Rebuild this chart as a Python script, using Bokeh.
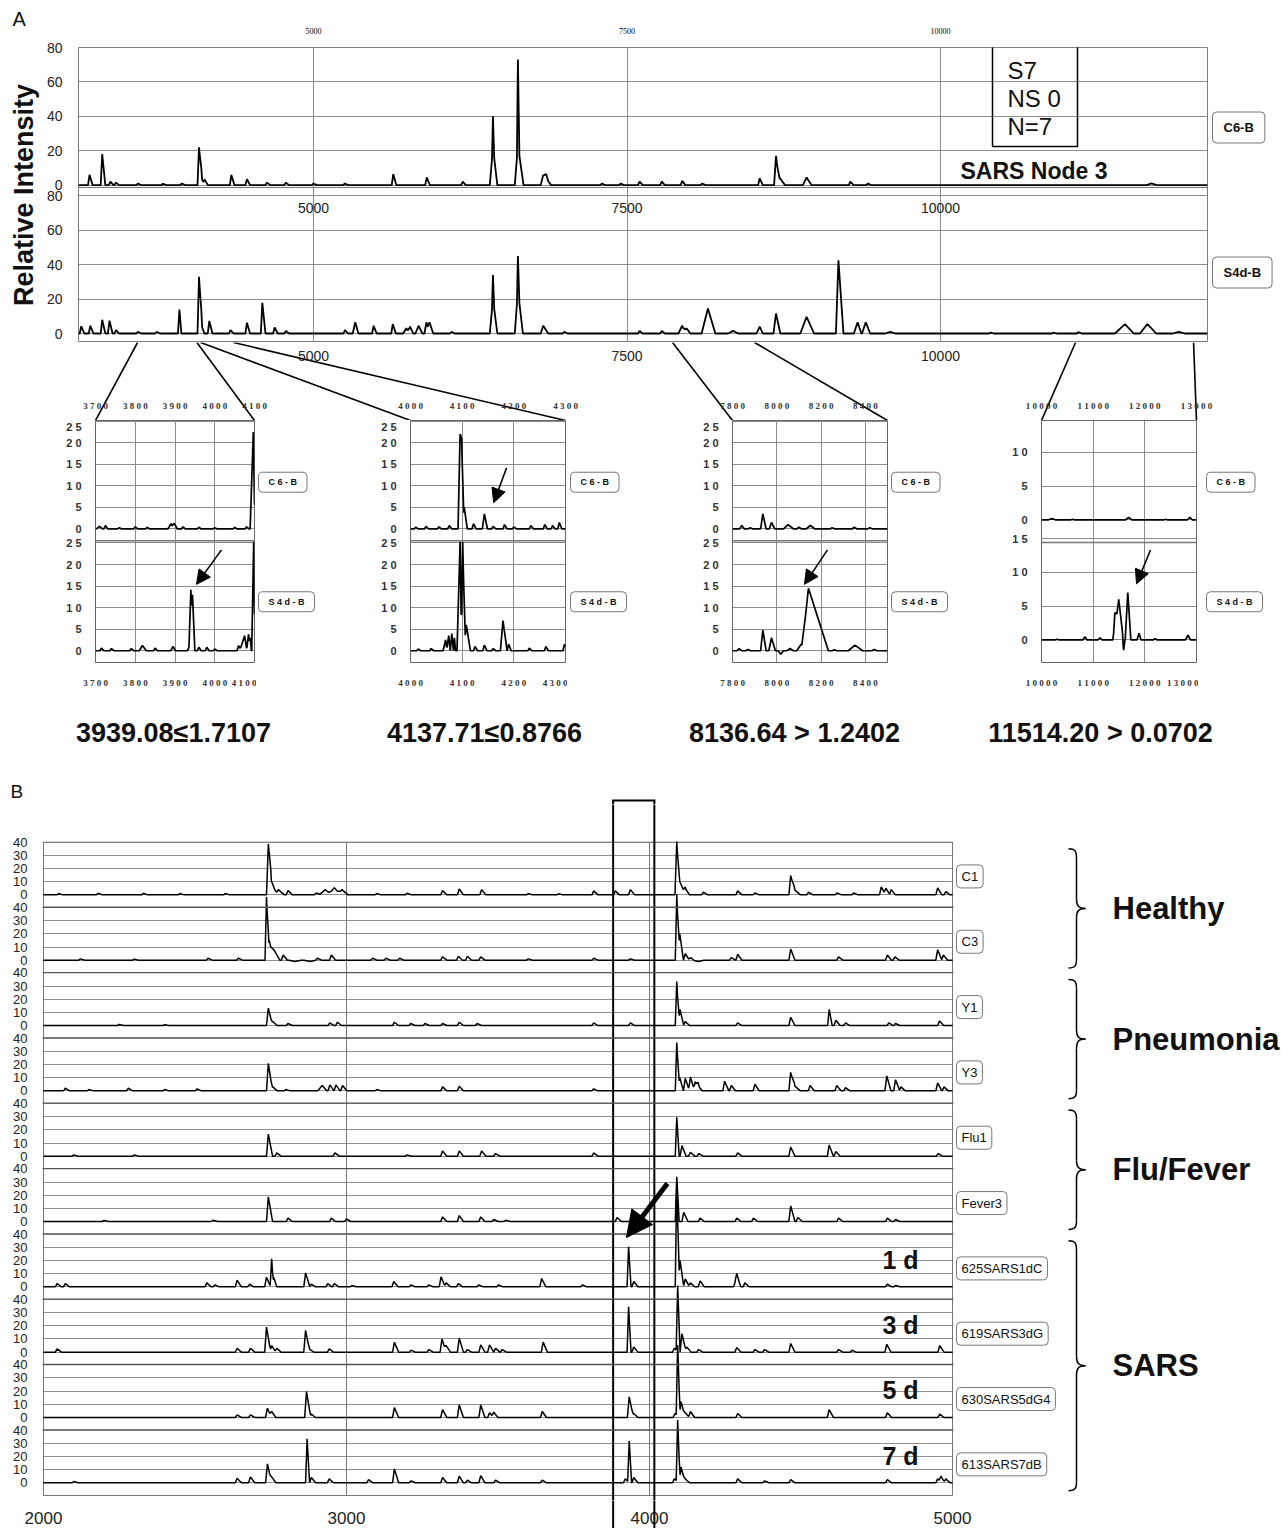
import numpy as np
from bokeh.plotting import figure
from bokeh.models import Range1d, FixedTicker, Arrow, NormalHead, Span
from bokeh.layouts import column, row
from bokeh.core.properties import value
from bokeh.embed import file_html
from bokeh.resources import INLINE

SANS = "Liberation Sans"
SERIF = "Liberation Serif"
INK = "#111111"
GRID = "#8c8c8c"

# ======================= DATA =======================
# ---- Panel A, full spectra (mass, height[, left width, right width]) ----
A_XTICKS = [5000, 7500, 10000]
A_YTICKS = [0, 20, 40, 60, 80]
A_NAMES = ["C6-B", "S4d-B"]
A_C6B = [(3214, 6), (3315, 18), (3380, 2), (3425, 1.5), (3600, 1), (3800, 0.8), (3950, 1),
         (4087, 22), (4105, 4, 15, 30), (4133, 3), (4345, 5.9), (4469, 3.5), (4630, 1.5),
         (4780, 1.5), (5000, 1), (5250, 1), (5636, 6.4), (5903, 4.5), (6190, 2),
         (6431, 22, 25, 35), (6431, 18, 8, 10), (6630, 23, 25, 45), (6630, 50, 8, 12),
         (6832, 6, 20, 40), (6855, 4, 20, 40), (7300, 1), (7450, 1), (7600, 2), (7777, 2),
         (7940, 2.5), (8100, 1), (8558, 4), (8688, 17, 15, 30), (8720, 4, 20, 40),
         (8932, 4.5, 30, 40), (9281, 2), (9421, 1), (11683, 1, 40, 40)]
A_S4DB = [(3148, 4.2), (3220, 4.5), (3315, 8), (3373, 7.5), (3425, 2), (3600, 1), (3750, 1),
          (3931, 13.9, 12, 15), (4087, 33), (4105, 5, 15, 25), (4169, 7.3), (4338, 2),
          (4469, 6.3), (4592, 17.8), (4690, 3.5), (4780, 1.5), (5251, 2), (5333, 6.5, 20, 25),
          (5479, 4.5), (5632, 5.5), (5740, 3, 25, 25), (5770, 4, 20, 25), (5838, 4.5, 25, 30),
          (5900, 6.5, 15, 25), (5925, 6.5, 15, 30), (6100, 1), (6431, 20, 25, 35),
          (6431, 14, 8, 10), (6630, 25, 25, 40), (6630, 20, 8, 12), (6832, 4.5, 20, 40),
          (7000, 1), (7600, 1.5), (7777, 1.5), (7940, 4.5, 30, 30), (7975, 3, 25, 30),
          (8145, 14.5, 50, 60), (8346, 1.5, 40, 40), (8558, 4, 25, 25), (8688, 11.6, 20, 35),
          (8932, 9.7, 50, 60), (9186, 42.5, 20, 40), (9339, 6.5, 30, 30), (9404, 6.5, 30, 35),
          (9600, 1, 40, 40), (10400, 0.5), (10900, 0.5), (11100, 0.8),
          (11471, 5.5, 80, 70), (11650, 5.5, 60, 70), (11900, 1, 50, 50)]
BOX_LINES = ["S7", "NS 0", "N=7"]
NODE_TITLE = "SARS Node 3"
CONN_TOP_MASS = [3597, 4070, 4100, 4362, 7863, 8517, 11077, 12018]

# ---- Panel A, zoomed insets ----
INSET_RANGES = [(3700, 4100), (4000, 4300), (7800, 8500), (10000, 13000)]
INSET_XTICKS = [[3700, 3800, 3900, 4000, 4100], [4000, 4100, 4200, 4300],
                [7800, 8000, 8200, 8400], [10000, 11000, 12000, 13000]]
INSET_YTICKS = [[0, 5, 10, 15, 20, 25]] * 3 + [[0, 5, 10, 15]]
INSET_C6B = [
    [(3710, 0.6, 8, 8), (3725, 0.8), (3760, 0.3), (3800, 0.5), (3830, 0.4), (3890, 1.2, 8, 8),
     (3898, 1.3, 5, 8), (3920, 0.5), (3960, 0.4), (4000, 0.3), (4050, 0.4), (4080, 0.5),
     (4097, 22.5, 8, 4)],
    [(4010, 0.4), (4030, 0.6), (4055, 0.5), (4075, 0.8), (4096, 22, 4, 3), (4099, 21, 3, 4),
     (4104, 5, 4, 6), (4122, 1.2), (4143, 3.5, 4, 6), (4160, 0.6), (4182, 1), (4200, 0.5),
     (4233, 0.8), (4260, 1), (4275, 0.8), (4288, 1.5)],
    [(7842, 0.8), (7880, 0.3), (7937, 3.5, 10, 15), (7976, 1.5, 10, 15), (8051, 1, 20, 25),
     (8100, 0.4), (8152, 0.8, 20, 20), (8250, 0.3), (8350, 0.4), (8420, 0.3)],
    [(10200, 0.2, 80, 80), (10600, 0.1), (11687, 0.4, 60, 60), (12400, 0.1), (12871, 0.4, 50, 50)],
]
INSET_S4DB = [
    [(3715, 0.6), (3740, 0.5), (3790, 0.5), (3818, 1.2, 8, 10), (3850, 0.6), (3895, 1, 6, 6),
     (3935, 0.7), (3940, 14, 5, 4), (3944, 13, 3, 6), (3960, 0.8), (3980, 0.8), (4000, 0.4),
     (4060, 1.2), (4075, 3.5, 12, 6), (4085, 3.8, 5, 5), (4090, 3, 3, 2), (4098, 25.3, 5, 3)],
    [(4015, 0.4), (4040, 0.5), (4068, 2.5, 5, 3), (4074, 3.5, 4, 3), (4080, 4, 3, 3),
     (4085, 3, 2, 2), (4096, 25.3, 6, 3), (4101, 25.3, 3, 5), (4108, 6, 5, 8), (4125, 1),
     (4143, 1.3), (4160, 0.5), (4179, 7, 5, 8), (4190, 1.5), (4230, 0.6), (4262, 1), (4298, 1.5)],
    [(7830, 0.5), (7870, 0.3), (7937, 4.8, 10, 15), (7976, 3, 12, 18), (8018, -0.8, 12, 12),
     (8060, 0.5, 15, 15), (8110, 1.5, 20, 20), (8143, 14.5, 30, 90), (8260, 0.2),
     (8353, 1.3, 30, 35), (8440, 0.3)],
    [(10300, 0.1), (10840, 0.5), (11134, 0.3), (11420, 2.5), (11495, 6, 100, 90),
     (11590, -1.5, 25, 25), (11670, 7, 50, 60), (11888, 1), (12200, 0.2), (12835, 0.7, 50, 50)],
]
INSET_ARROWS = [("lower", 4017, 23.4, 3954, 15.4), ("upper", 4186, 14.2, 4161, 6.1),
                ("lower", 8229, 23.4, 8125, 15.4), ("lower", 12110, 13.3, 11839, 8.3)]
THRESH_TEXT = ["3939.08≤1.7107", "4137.71≤0.8766", "8136.64 > 1.2402", "11514.20 > 0.0702"]

# ---- Panel B ----
B_XTICKS = [2000, 3000, 4000, 5000]
B_YTICKS = [0, 10, 20, 30, 40]
B_NAMES = ["C1", "C3", "Y1", "Y3", "Flu1", "Fever3",
           "625SARS1dC", "619SARS3dG", "630SARS5dG4", "613SARS7dB"]
B_C1 = [(2050, 1), (2180, 1.2), (2330, 1.2), (2450, 1), (2600, 1), (2742, 38.7, 6, 10),
        (2750, 12, 8, 20), (2775, 4, 10, 20), (2807, 3.3), (2900, 1.5), (2930, 4, 20, 20),
        (2960, 5.5, 20, 20), (2985, 4, 15, 20), (3100, 1), (3200, 1.2), (3317, 3.3), (3372, 4.5),
        (3446, 4), (3600, 1), (3700, 0.8), (3816, 3), (3887, 3), (3937, 4), (4090, 40.5, 6, 10),
        (4100, 10, 8, 20), (4118, 5), (4178, 2), (4291, 3), (4348, 1.5), (4466, 14.7),
        (4478, 4, 10, 20), (4525, 2), (4619, 1.5), (4674, 1.5), (4765, 6), (4780, 5), (4798, 4),
        (4951, 5.3), (4978, 2.5)]
B_C3 = [(2122, 1), (2300, 0.8), (2543, 1.5), (2643, 1.5), (2736, 48, 5, 8), (2745, 15, 8, 15),
        (2760, 8, 10, 20), (2791, 4), (2830, -1, 20, 20), (2880, -1, 20, 20), (2904, 1.5),
        (2950, 4), (3086, 1.5), (3130, 1.5), (3175, 1.5), (3317, 2.5), (3369, 3), (3399, 3),
        (3443, 2.5), (3600, 1), (3816, 1.5), (3937, 1), (4090, 50, 5, 8), (4100, 20, 8, 12),
        (4118, 5), (4135, 2), (4160, -1, 20, 20), (4270, 2), (4291, 4.5), (4466, 8.5),
        (4624, 2.5), (4785, 4), (4810, 2.5), (4951, 8), (4970, 4)]
B_Y1 = [(2250, 0.8), (2400, 0.6), (2742, 13.2), (2757, 3), (2807, 1.5), (2945, 2), (2970, 2.5),
        (3158, 2.5), (3212, 1.5), (3259, 1.5), (3317, 1.5), (3372, 2.5), (3431, 1.5), (3816, 2),
        (3937, 2), (4090, 33.4, 5, 8), (4101, 12, 8, 12), (4118, 3), (4291, 2), (4466, 6.3),
        (4593, 12.2, 5, 10), (4615, 4), (4647, 2), (4790, 2), (4812, 1.5), (4957, 3.5)]
B_Y3 = [(2072, 2), (2150, 1), (2280, 2), (2400, 1), (2507, 1.5), (2742, 20.8), (2757, 3),
        (2800, 1), (2920, 4, 15, 15), (2945, 4.5), (2965, 4.5), (2987, 4), (3100, 1), (3317, 3),
        (3372, 3.5), (3816, 1.5), (4090, 36.7, 5, 8), (4100, 10, 8, 12), (4118, 9.5),
        (4135, 10.5), (4151, 7), (4160, 4), (4248, 7.3), (4270, 4), (4348, 5), (4466, 14),
        (4478, 4, 10, 20), (4530, 4), (4618, 4), (4647, 2.5), (4783, 11.4), (4812, 8.5),
        (4830, 3), (4951, 6), (4972, 3)]
B_FLU1 = [(2100, 1), (2300, 1), (2742, 16.7), (2770, 2.5), (2962, 2.5), (3200, 1), (3317, 4),
          (3372, 4), (3446, 4), (3492, 2), (3816, 2.5), (4090, 29.6, 5, 8), (4107, 8),
          (4135, 3), (4163, 2), (4291, 2.5), (4466, 7), (4593, 8.5), (4615, 3.5), (4953, 2)]
B_FEVER3 = [(2200, 0.8), (2560, 1), (2742, 18.7), (2807, 2.5), (2950, 2.5), (3000, 2),
            (3317, 3.5), (3372, 4.5), (3443, 3.5), (3486, 1.5), (3526, 1), (3893, 3),
            (4090, 34, 5, 8), (4113, 7), (4167, 2.5), (4288, 2.5), (4343, 2.5), (4466, 11.9),
            (4490, 3), (4624, 2.5), (4785, 2.5), (4812, 1.5)]
B_S1D = [(2045, 2.5), (2072, 2.5), (2539, 3), (2566, 1.5), (2639, 5), (2680, 2), (2736, 7.3),
         (2753, 21.3, 5, 6), (2760, 7, 4, 10), (2865, 10.6), (2884, 2), (2938, 2.5), (2960, 2.5),
         (3018, 1), (3156, 4), (3213, 1.5), (3272, 1.5), (3312, 7.6), (3329, 3), (3369, 2.5),
         (3437, 1.5), (3502, 1.5), (3644, 6.3), (3779, 1.5), (3931, 30.4, 5, 8), (3948, 4),
         (4090, 80, 5, 8), (4101, 20, 8, 12), (4118, 6), (4135, 3), (4167, 4.5), (4283, 3.5),
         (4288, 8), (4315, 3), (4785, 2), (4812, 1)]
B_S3D = [(2045, 2.5), (2639, 3), (2683, 3), (2736, 19), (2753, 5), (2770, 3), (2865, 16.5),
         (2879, 2), (2943, 2.5), (3158, 7.5), (3213, 1.5), (3272, 2), (3315, 10), (3329, 5),
         (3372, 10.5), (3399, 2), (3443, 5.5), (3472, 5.5), (3492, 3), (3514, 2), (3649, 7.6),
         (3931, 34.4, 5, 8), (3948, 4), (4082, 3), (4093, 50, 5, 8), (4107, 14), (4123, 4),
         (4162, 2), (4288, 3.5), (4348, 2), (4380, 2), (4466, 6.6), (4624, 2), (4668, 1.5),
         (4783, 6), (4958, 5)]
B_S5D = [(2639, 2), (2683, 2), (2739, 7), (2753, 4.5), (2868, 19.7), (2884, 2.5), (3158, 7.5),
         (3317, 6), (3372, 9.5), (3443, 9.5), (3472, 3.5), (3486, 4), (3646, 4.5), (3933, 15.7),
         (3948, 3), (4084, 3), (4093, 54, 5, 8), (4104, 12), (4118, 3.5), (4135, 4.5),
         (4291, 3), (4593, 6), (4785, 3.5), (4958, 2.5)]
B_S7D = [(2100, 1), (2639, 3.5), (2683, 4.5), (2739, 14.4), (2753, 4.5), (2870, 33.4, 5, 8),
         (2884, 4), (2943, 3), (3073, 2.5), (3158, 10.6), (3213, 1.5), (3317, 4), (3372, 5),
         (3399, 2), (3443, 5.5), (3492, 2), (3646, 2), (3920, 3), (3933, 31.6, 5, 8), (3948, 4),
         (4082, 3), (4093, 47, 5, 8), (4104, 12), (4118, 3), (4291, 3), (4380, 1.5), (4466, 2.5),
         (4785, 2.5), (4951, 3), (4962, 4.5), (4978, 3)]
B_TRACES = [B_C1, B_C3, B_Y1, B_Y3, B_FLU1, B_FEVER3, B_S1D, B_S3D, B_S5D, B_S7D]
B_GROUPS = [("Healthy", 0, 1), ("Pneumonia", 2, 3), ("Flu/Fever", 4, 5), ("SARS", 6, 9)]
B_DAYS = {6: "1 d", 7: "3 d", 8: "5 d", 9: "7 d"}
B_HILITE = (3880, 4016)
B_ARROW = (4059, 3924)


# ======================= HELPERS =======================
def profile(peaks, x0, x1, wl0, wr0):
    pk = []
    for p in peaks:
        wl = p[2] if len(p) > 2 else wl0
        wr = p[3] if len(p) > 3 else wr0
        pk.append((p[0], p[1], wl, wr))
    xs = {x0, x1}
    for m, h, wl, wr in pk:
        xs.update((m - wl, m, m + wr))
    xs = sorted(x for x in xs if x0 <= x <= x1)
    ys = []
    for x in xs:
        s = 0.0
        for m, h, wl, wr in pk:
            if m - wl < x <= m:
                s += h * (x - (m - wl)) / wl
            elif m < x < m + wr:
                s += h * (m + wr - x) / wr
        ys.append(s)
    return np.array(xs, float), np.array(ys, float)


def txt(p, x, y, text, size, bold=False, align="left", font=SANS, color=INK, **kw):
    return p.text(x=x, y=y, text=text, text_font=value(font), text_font_size=size,
                  text_font_style="bold" if bold else "normal", text_align=align,
                  text_baseline="middle", text_color=color, **kw)


def blank(width, height, xr, yr, top=0, bottom=0):
    f = figure(width=width, height=height, x_range=xr, y_range=yr, x_axis_location=None,
               y_axis_location=None, output_backend="svg", toolbar_location=None,
               outline_line_color=None, min_border_left=0, min_border_right=0,
               min_border_top=top, min_border_bottom=bottom)
    f.grid.visible = False
    return f


def spaced(s):
    return " ".join(str(s))


BOXKW = dict(border_line_color="#777777", border_line_width=1, background_fill_color="white",
             border_radius=4)
W = 1283

# ======================= PANEL A: full spectra =======================
XA0, XA1 = 3126, 12129
AF_L, AF_R, AF_T, AF_B = 78, 1207, 47, 342
A_ZERO_PX, A_SCALE = 333.0, 1.72
OFF_A = 86.25
TOP_H = 39


def pxa(m):
    return AF_L + (m - XA0) / (XA1 - XA0) * (AF_R - AF_L)


def ax(px):
    return XA0 + (px - AF_L) / (AF_R - AF_L) * (XA1 - XA0)


def ay(py):
    return (A_ZERO_PX - py) / A_SCALE


figTop = blank(W, TOP_H, Range1d(0, W), Range1d(TOP_H, 0))
txt(figTop, [12], [18], ["A"], "20px")
txt(figTop, [pxa(t) for t in A_XTICKS], [30] * 3, [str(t) for t in A_XTICKS], "8px",
    align="center", font=SERIF, color="#000000")

figA = figure(width=AF_R + 2, height=AF_B - TOP_H, x_range=Range1d(XA0, XA1),
              y_range=Range1d(ay(AF_B), ay(AF_T)), x_axis_location=None,
              min_border_left=AF_L, min_border_right=2, min_border_top=AF_T - TOP_H,
              min_border_bottom=0, output_backend="svg", toolbar_location=None,
              outline_line_color="#7a7a7a")
ticksA = [float(t) for t in A_YTICKS] + [OFF_A + t for t in A_YTICKS]
figA.yaxis.ticker = FixedTicker(ticks=ticksA)
figA.yaxis.major_label_overrides = {t: str(int(round(t - (OFF_A if t > 85 else 0)))) for t in ticksA}
figA.yaxis.major_label_text_font = SANS
figA.yaxis.major_label_text_font_size = "14px"
figA.yaxis.major_label_text_color = "#222222"
figA.yaxis.major_label_standoff = 10
figA.yaxis.axis_line_color = None
figA.yaxis.major_tick_line_color = None
figA.yaxis.minor_tick_line_color = None
figA.yaxis.axis_label = "Relative Intensity"
figA.yaxis.axis_label_text_font = SANS
figA.yaxis.axis_label_text_font_size = "27px"
figA.yaxis.axis_label_text_font_style = "bold"
figA.yaxis.axis_label_text_color = INK
figA.yaxis.axis_label_standoff = 5
figA.ygrid.ticker = FixedTicker(ticks=ticksA)
figA.xgrid.ticker = FixedTicker(ticks=A_XTICKS)
figA.grid.grid_line_color = GRID
figA.add_layout(Span(location=ay(187), dimension="width", line_color="#777777", line_width=1))

xs, ys = profile(A_C6B, XA0, XA1, 12, 25)
figA.line(xs, ys + OFF_A, line_color="black", line_width=1.8)
xs, ys = profile(A_S4DB, XA0, XA1, 12, 25)
figA.line(xs, ys, line_color="black", line_width=1.8)

txt(figA, A_XTICKS, [ay(207)] * 3, [str(t) for t in A_XTICKS], "14px", align="center", color="#222222")
figA.quad(left=[ax(992)], right=[ax(1077)], bottom=[ay(146)], top=[ay(40)], fill_color=None,
          line_color="black", line_width=1.5)
txt(figA, [ax(1007)] * 3, [ay(70), ay(98), ay(126)], BOX_LINES, "24px")
txt(figA, [ax(960)], [ay(170)], [NODE_TITLE], "23px", bold=True)

figA_r = blank(W - (AF_R + 2), AF_B - TOP_H, Range1d(0, W - (AF_R + 2)), figA.y_range,
               top=AF_T - TOP_H)
txt(figA_r, [3, 3], [ay(127), ay(272)], A_NAMES, "13px", bold=True, padding=(11, 8), **BOXKW)

# ======================= connectors =======================
INSET_FRAMES = [(95, 254), (410, 565), (732, 887), (1041, 1196)]
IN_TOP, IN_BOT, IN_END = 420, 667, 690
figC = blank(W, IN_TOP - AF_B, Range1d(0, W), Range1d(IN_TOP, AF_B))
bot_px = [v for fr in INSET_FRAMES for v in fr]
figC.segment(x0=[pxa(m) for m in CONN_TOP_MASS], y0=[AF_B] * 8, x1=bot_px, y1=[IN_TOP] * 8,
             line_color="black", line_width=1.6)
txt(figC, [pxa(t) for t in A_XTICKS], [355] * 3, [str(t) for t in A_XTICKS], "14px",
    align="center", color="#222222")


def inset_px(i, t):
    (L, R), (x0, x1) = INSET_FRAMES[i], INSET_RANGES[i]
    return L + (t - x0) / (x1 - x0) * (R - L)


for i in range(4):
    tk = INSET_XTICKS[i]
    txt(figC, [inset_px(i, t) for t in tk], [405] * len(tk), [spaced(t) for t in tk], "9px",
        bold=True, align="center", font=SERIF, color="#333333")

# ======================= insets =======================
INSET_ZERO_PX = [655, 655, 655, 644]
INSET_SCALE = [4.4, 4.4, 4.4, 6.9]
INSET_OFF = [28.25, 28.25, 28.25, 17.75]
INSET_WIDTHS = [(4, 6), (3, 5), (10, 12), (40, 40)]
LABEL_GAP = [2, 3, 2, 8]
starts = [0, 330, 660, 975, W]
inset_row = []
for i in range(4):
    L, R = INSET_FRAMES[i]
    x0, x1 = INSET_RANGES[i]
    z, s, off = INSET_ZERO_PX[i], INSET_SCALE[i], INSET_OFF[i]
    yr = Range1d((z - IN_BOT) / s, (z - IN_TOP) / s)
    f = figure(width=R + 2 - starts[i], height=IN_END - IN_TOP, x_range=Range1d(x0, x1), y_range=yr,
               min_border_left=L - starts[i], min_border_right=2, min_border_top=0,
               min_border_bottom=IN_END - IN_BOT, output_backend="svg", toolbar_location=None,
               outline_line_color="#666666")
    yt = [float(t) for t in INSET_YTICKS[i]] + [off + t for t in INSET_YTICKS[i]]
    yt = [t for t in yt if yr.start <= t <= yr.end + 0.5]
    f.yaxis.ticker = FixedTicker(ticks=yt)
    f.yaxis.major_label_overrides = {t: spaced(int(round(t - (off if t >= off - 0.01 else 0)))) for t in yt}
    f.xaxis.ticker = FixedTicker(ticks=INSET_XTICKS[i])
    f.xaxis.major_label_overrides = {t: spaced(t) for t in INSET_XTICKS[i]}
    for a in (f.xaxis, f.yaxis):
        a.axis_line_color = None
        a.major_tick_line_color = None
        a.minor_tick_line_color = None
        a.major_label_text_color = "#333333"
    f.yaxis.major_label_text_font = SANS
    f.yaxis.major_label_text_font_size = "11px"
    f.yaxis.major_label_text_font_style = "bold"
    f.yaxis.major_label_standoff = 8
    f.xaxis.major_label_text_font = SERIF
    f.xaxis.major_label_text_font_size = "9px"
    f.xaxis.major_label_text_font_style = "bold"
    f.xaxis.major_label_standoff = 9
    f.xgrid.ticker = FixedTicker(ticks=INSET_XTICKS[i])
    f.ygrid.ticker = FixedTicker(ticks=yt)
    f.grid.grid_line_color = GRID
    f.add_layout(Span(location=off + yr.start, dimension="width", line_color="#777777", line_width=1.5))
    wl, wr = INSET_WIDTHS[i]
    xs, ys = profile(INSET_C6B[i], x0, x1, wl, wr)
    f.line(xs, ys + off, line_color="black", line_width=1.7)
    xs, ys = profile(INSET_S4DB[i], x0, x1, wl, wr)
    f.line(xs, ys, line_color="black", line_width=1.7)
    panel, xs0, ys0, xe, ye = INSET_ARROWS[i]
    sh = off if panel == "upper" else 0
    f.add_layout(Arrow(end=NormalHead(size=14, fill_color="black", line_color="black"),
                       x_start=xs0, y_start=ys0 + sh, x_end=xe, y_end=ye + sh,
                       line_color="black", line_width=1.6))
    lw = starts[i + 1] - (R + 2)
    lab = blank(lw, IN_END - IN_TOP, Range1d(0, lw), yr, bottom=IN_END - IN_BOT)
    txt(lab, [LABEL_GAP[i]] * 2, [(z - 483) / s, (z - 605) / s], [spaced("C6-B"), spaced("S4d-B")],
        "9px", bold=True, padding=(10, 5), **BOXKW)
    inset_row += [f, lab]

# ======================= PANEL B geometry =======================
BF_L, BF_R = 43, 952
B_ZERO_PX, B_SCALE, OFF_B = 1482.3, 1.3164, 49.625
B_TOP_PX, B_BOT_PX = 804, 1500


def bx(px):
    return 2000 + (px - BF_L) / (BF_R - BF_L) * 3000


def bpx(m):
    return BF_L + (m - 2000) / 3000 * (BF_R - BF_L)


def by(py):
    return (B_ZERO_PX - py) / B_SCALE


# ======================= threshold text row (+ "B") =======================
figT = blank(W, B_TOP_PX - IN_END, Range1d(0, W), Range1d(B_TOP_PX, IN_END))
txt(figT, [173, 484, 794, 1100], [732] * 4, THRESH_TEXT, "27px", bold=True, align="center")
txt(figT, [10], [791], ["B"], "19px")
hl, hr = bpx(B_HILITE[0]), bpx(B_HILITE[1])
figT.segment(x0=[hl, hr, hl - 1], y0=[800, 800, 800], x1=[hl, hr, hr + 1], y1=[B_TOP_PX + 1] * 2 + [800],
             line_color="black", line_width=2)

# ======================= PANEL B =======================
n = len(B_NAMES)
base = [(n - 1 - k) * OFF_B for k in range(n)]
figB = figure(width=BF_R + 2, height=B_BOT_PX - B_TOP_PX,
              x_range=Range1d(bx(BF_L - 1), bx(BF_R + 1)), y_range=Range1d(by(B_BOT_PX), by(B_TOP_PX)),
              x_axis_location=None, min_border_left=BF_L - 1, min_border_right=1,
              min_border_top=0, min_border_bottom=0, output_backend="svg",
              toolbar_location=None, outline_line_color=None)
ticksB = sorted(b + t for b in base for t in B_YTICKS)
figB.yaxis.ticker = FixedTicker(ticks=ticksB)
figB.yaxis.major_label_overrides = {t: str(int(round(t - max(b for b in base if b <= t + 1e-6)))) for t in ticksB}
figB.yaxis.major_label_text_font = SANS
figB.yaxis.major_label_text_font_size = "13px"
figB.yaxis.major_label_text_color = "#222222"
figB.yaxis.major_label_standoff = 9
figB.yaxis.axis_line_color = None
figB.yaxis.major_tick_line_color = None
figB.yaxis.minor_tick_line_color = None
figB.xgrid.visible = False
figB.ygrid.ticker = FixedTicker(ticks=ticksB)
figB.ygrid.grid_line_color = "#909090"
panel_bot, panel_top = by(1495), base[0] + 40
figB.segment(x0=[3000, 4000], y0=[panel_bot] * 2, x1=[3000, 4000], y1=[panel_top] * 2,
             line_color="#7a7a7a", line_width=1)
for b in base[:-1]:
    figB.add_layout(Span(location=b - 9.4, dimension="width", line_color="#555555", line_width=1.3))
figB.quad(left=[2000], right=[5000], bottom=[panel_bot], top=[panel_top], fill_color=None,
          line_color="#777777", line_width=1)
for k in range(n):
    xs, ys = profile(B_TRACES[k], 2000, 5000, 6, 14)
    figB.line(xs, ys + base[k], line_color="black", line_width=1.5)
dk = sorted(B_DAYS)
txt(figB, [bx(900)] * len(dk), [base[k] + 20.5 for k in dk], [B_DAYS[k] for k in dk], "25px",
    bold=True, align="center")
figB.quad(left=[B_HILITE[0]], right=[B_HILITE[1]], bottom=[by(1540)], top=[by(790)],
          fill_color=None, line_color="black", line_width=2)
figB.add_layout(Arrow(end=NormalHead(size=26, fill_color="black", line_color="black"),
                      x_start=B_ARROW[0], y_start=by(1183), x_end=B_ARROW[1], y_end=by(1237),
                      line_color="black", line_width=5))

figB_r = blank(W - (BF_R + 2), B_BOT_PX - B_TOP_PX, Range1d(BF_R + 2, W), figB.y_range)
txt(figB_r, [956] * n, [b + 14 for b in base], B_NAMES, "13px", padding=(5, 4), **BOXKW)
X0b, X1b, X2b, r = 1068, 1076, 1085, 7.0
for name, k1, k2 in B_GROUPS:
    yt_, yb_ = base[k1] + 35, base[k2] - 6
    ym = (yt_ + yb_) / 2
    figB_r.bezier(x0=[X0b, X1b, X2b, X1b], y0=[yt_, ym + r, ym, yb_ + r],
                  x1=[X1b, X2b, X1b, X0b], y1=[yt_ - r, ym, ym - r, yb_],
                  cx0=[X1b - 1, X1b, X1b + 2, X1b], cy0=[yt_, ym + 0.3 * r, ym, yb_ + 0.3 * r],
                  cx1=[X1b, X1b + 2, X1b, X1b - 1], cy1=[yt_ - 0.3 * r, ym, ym - 0.3 * r, yb_],
                  line_color="black", line_width=1.5)
    figB_r.segment(x0=[X1b, X1b], y0=[yt_ - r, ym - r], x1=[X1b, X1b], y1=[ym + r, yb_ + r],
                   line_color="black", line_width=1.5)
    txt(figB_r, [1112], [ym], [name], "31px", bold=True)

# bottom strip: x tick labels of panel B and the end of the highlight box
H_TOTAL = 1528
figBot = blank(W, H_TOTAL - B_BOT_PX, Range1d(0, W), Range1d(H_TOTAL, B_BOT_PX))
txt(figBot, [bpx(t) for t in B_XTICKS], [1517] * 4, [str(t) for t in B_XTICKS], "17px",
    align="center", color="#222222")
figBot.segment(x0=[hl, hr], y0=[B_BOT_PX - 1] * 2, x1=[hl, hr], y1=[H_TOTAL] * 2,
               line_color="black", line_width=2)

layout = column(figTop, row(figA, figA_r), figC, row(*inset_row), figT, row(figB, figB_r), figBot)
open("out.html", "w").write(file_html(layout, INLINE, "SARS spectra"))
